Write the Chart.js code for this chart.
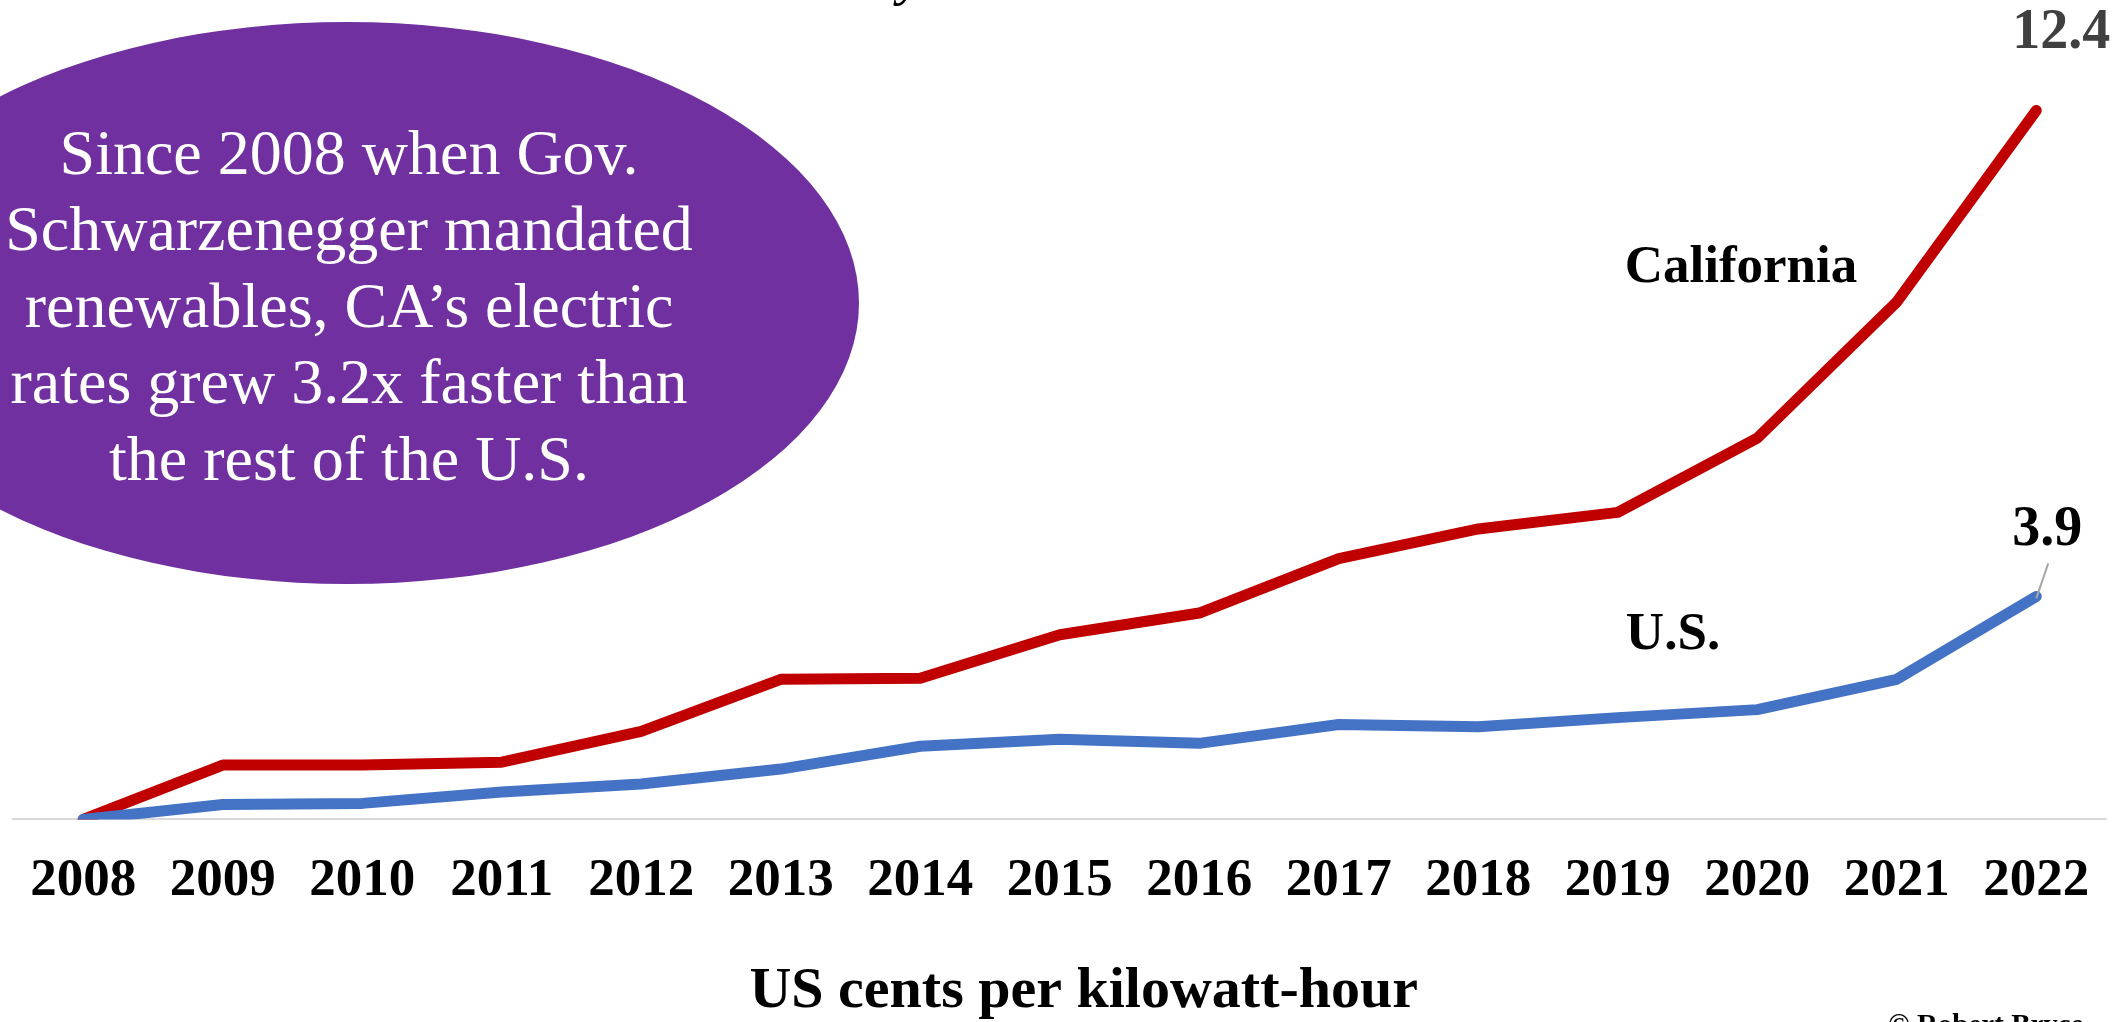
<!DOCTYPE html>
<html>
<head>
<meta charset="utf-8">
<script src="https://cdn.jsdelivr.net/npm/chart.js@4/dist/chart.umd.min.js"></script>
<style>
  html, body { margin: 0; padding: 0; background: #fff; }
  #wrap { width: 2128px; height: 1022px; }
</style>
</head>
<body>
<div id="wrap"><canvas id="rates" width="2128" height="1022"></canvas></div>
<script>
// cumulative increase since 2008, US cents per kWh
const years = ['2008', '2009', '2010', '2011', '2012', '2013', '2014', '2015',
               '2016', '2017', '2018', '2019', '2020', '2021', '2022'];
const usIncrease = [0, 0.26, 0.28, 0.48, 0.62, 0.88, 1.28, 1.40, 1.33, 1.66, 1.62, 1.78, 1.92, 2.45, 3.9];
const caIncrease = [0, 0.95, 0.95, 1.0, 1.54, 2.45, 2.47, 3.23, 3.61, 4.56, 5.08, 5.37, 6.67, 9.05, 12.4];
const calloutLines = ['Since 2008 when Gov.', 'Schwarzenegger mandated',
                      'renewables, CA\u2019s electric', 'rates grew 3.2x faster than',
                      'the rest of the U.S.'];

const serif = '"Liberation Serif", "Times New Roman", serif';

// text, ellipse, end labels
const annotations = {
    id: 'annotations',
    afterDraw: (chart) => {
        const { ctx, chartArea, scales: { x, y } } = chart;
        const last = years.length - 1;
        ctx.save();

        // purple callout
        ctx.fillStyle = '#7030A0';
        ctx.beginPath();
        ctx.ellipse(347, 303, 512, 281, 0, 0, Math.PI * 2);
        ctx.fill();
        ctx.fillStyle = '#ffffff';
        ctx.font = '64px ' + serif;
        ctx.textAlign = 'center';
        ctx.textBaseline = 'middle';
        calloutLines.forEach((line, i) => {
            ctx.fillText(line, 349, 157 + i * 76.5);
        });

        // series names
        ctx.fillStyle = '#000000';
        ctx.font = 'bold 53px ' + serif;
        ctx.textBaseline = 'alphabetic';
        ctx.fillText('California', 1741, 282);
        ctx.fillText('U.S.', 1673, 649);

        // end value labels
        const xe = x.getPixelForValue(last);
        const caY = y.getPixelForValue(caIncrease[last]);
        const usY = y.getPixelForValue(usIncrease[last]);
        ctx.font = 'bold 56px ' + serif;
        ctx.fillStyle = '#404040';
        ctx.fillText(caIncrease[last].toFixed(1), xe + 25, caY - 62);
        ctx.fillStyle = '#000000';
        ctx.fillText(usIncrease[last].toFixed(1), xe + 11, usY - 51);
        ctx.strokeStyle = '#a6a6a6';
        ctx.lineWidth = 2;
        ctx.beginPath();
        ctx.moveTo(xe, usY + 2);
        ctx.lineTo(xe + 12, usY - 33);
        ctx.stroke();

        // axis caption
        ctx.font = 'bold 58px ' + serif;
        ctx.fillText('US cents per kilowatt-hour', (chartArea.left + chartArea.right) / 2 + 24, 1007);

        // cut-off bits at the edges
        ctx.font = 'bold 29px ' + serif;
        ctx.textAlign = 'left';
        ctx.fillText('\u00a9 Robert Bryce', 1888, 1034);
        ctx.font = 'italic 56px ' + serif;
        ctx.fillText('y', 898, -6);
        ctx.restore();
    }
};

const ctx = document.getElementById('rates').getContext('2d');
new Chart(ctx, {
    type: 'line',
    data: {
        labels: years,
        datasets: [
            {
                label: 'U.S.',
                data: usIncrease,
                borderColor: '#4472C4',
                borderWidth: 11,
                borderCapStyle: 'round',
                borderJoinStyle: 'round',
                pointRadius: 0,
                tension: 0
            },
            {
                label: 'California',
                data: caIncrease,
                borderColor: '#C00000',
                borderWidth: 11,
                borderCapStyle: 'round',
                borderJoinStyle: 'round',
                pointRadius: 0,
                tension: 0
            }
        ]
    },
    options: {
        responsive: false,
        animation: false,
        layout: { padding: { top: 19, bottom: 79, left: 7, right: 22 } },
        plugins: {
            legend: { display: false },
            tooltip: { enabled: false }
        },
        scales: {
            x: {
                offset: true,
                grid: { display: false, drawTicks: false },
                border: { display: true, color: '#d9d9d9', width: 2 },
                ticks: {
                    color: '#000000',
                    padding: 30,
                    maxRotation: 0,
                    autoSkip: false,
                    font: { family: serif, size: 53, weight: 'bold' }
                }
            },
            y: {
                display: false,
                min: 0,
                max: 14
            }
        }
    },
    plugins: [annotations]
});
</script>
</body>
</html>
